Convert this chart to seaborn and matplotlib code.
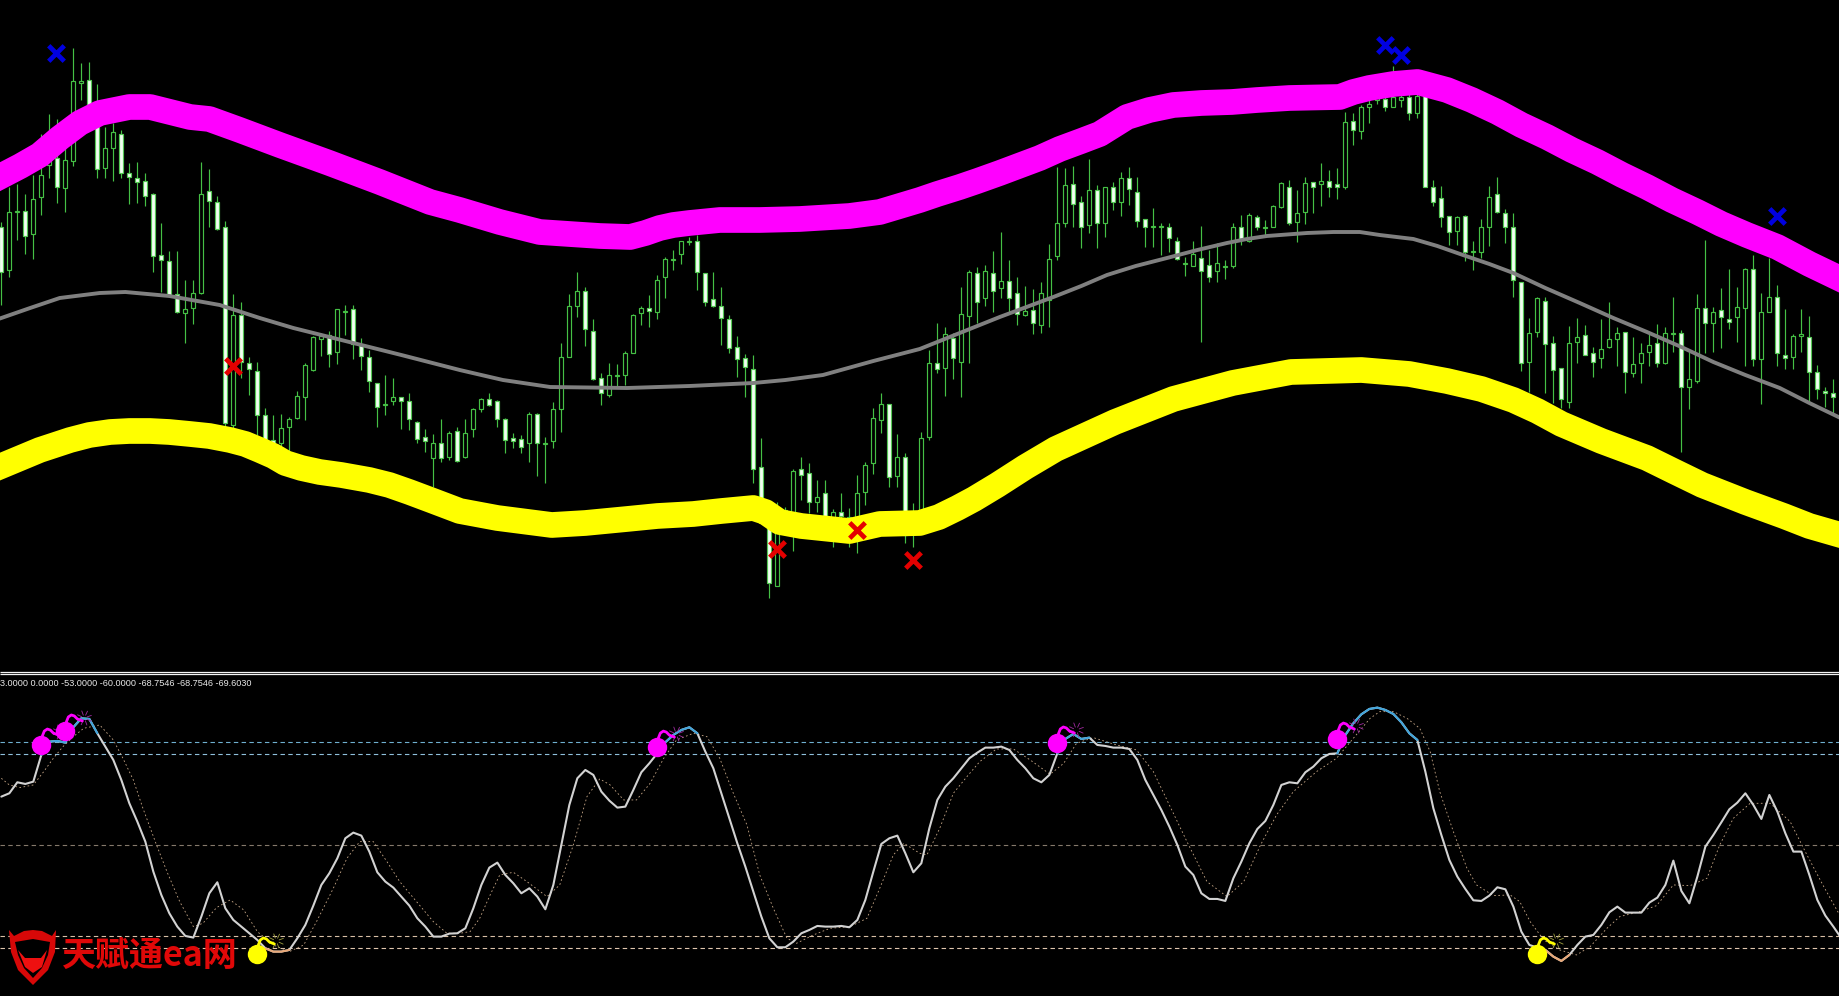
import numpy as np
import pandas as pd
import matplotlib
matplotlib.use('Agg')
import matplotlib.pyplot as plt
from matplotlib.patches import Polygon
import seaborn as sns

# candles, price scale is in chart rows (top of window = 0)
body_top = [227,212,211,211,199,175,150,158,160,81,
    81,80,125,148,132,134,173,178,181,194,
    255,261,294,309,293,194,191,202,227,315,
    315,363,371,415,440,428,419,396,365,337,
    336,335,309,311,309,345,357,383,404,397,
    397,401,422,437,443,443,433,431,433,409,
    399,399,401,419,438,439,414,414,443,409,
    357,306,291,291,331,378,375,375,353,315,
    308,308,280,259,259,241,241,241,273,299,
    306,319,347,358,369,467,505,533,510,471,
    469,473,497,493,512,512,517,493,465,418,
    404,404,457,457,515,438,363,363,334,338,
    314,272,273,271,273,281,281,293,311,310,
    293,259,223,185,184,202,190,190,187,187,
    178,178,192,219,226,226,227,241,263,254,
    258,265,263,266,227,227,215,217,227,206,
    183,187,213,183,182,181,181,184,122,121,
    107,104,98,99,97,97,97,96,96,187,
    198,216,217,216,251,227,197,194,213,227,
    282,333,298,301,343,368,343,337,335,353,
    349,339,333,332,364,353,345,343,333,333,
    333,379,308,308,312,310,319,307,269,269,
    312,297,297,355,336,334,337,372,391,393]
body_bot = [272,270,212,236,234,197,165,187,188,161,
    83,105,169,168,148,173,177,182,196,256,
    260,295,312,313,308,293,201,229,423,425,
    362,369,415,440,444,443,427,418,397,370,
    339,354,352,311.5,344,356,381,407,404.5,401,
    401,419,439,441,458,458,457,461,457,429,
    409,405,419,440,441,447,443,443,443.5,441,
    409,357,306,329,379,393,395,375.5,375,353,
    313,311,312,277,259.5,254,241.5,272,302,306,
    318,348,359,367,469,498,583,586,528,530,
    475,502,502,520,533,516,540,533,492,463,
    420,477,476,535,525,510,437,369,368,358,
    362,316,302,298,291,288,298,314,315,323,
    325,300,256,223,204,227,225,223,223,202,
    202,189,221,227,226.5,226.5,238,259,263.5,266,
    271,277,271,266.5,266,239,241,227,227.5,227,
    207,223,222,212,187,184,187,187,187,130,
    131,107,100,107,107,100,113,113,187,202,
    217,232,231,252,251.5,252,227,212,227,280,
    363,362,332,344,370,399,402,342,355,362,
    358,347,339,372,373,363,352,363,363,333.5,
    387,387,381,323,323,317,322,317,308,359,
    359,312,353,358,357,336,372,389,393,397]
wick_hi = [222,187,184,194,175,134,114,119,145,48,
    63,62,84,127,123,130,163,162,173,193,
    223,251,251,280,280,162,169,196,221,294,
    302,357,362,408,415,414,417,391,363,336,
    333,331,309,305,305,338,350,383,375,378,
    397,393,421,429,434,419,431,427,419,408,
    398,393,400,418,433,435,412,413,437,402,
    343,294,272,287,319,373,363,364,351,314,
    306,295,275,257,250,241,237,235,273,272,
    287,315,336,354,355,438,505,502,507,469,
    457,463,480,480,509,493,508,475,462,408,
    393,404,434,453,503,432,350,323,327,333,
    287,270,267,265,251,232,260,277,286,289,
    282,244,167,168,166,196,159,185,187,182,
    172,167,177,219,208,223,223,237,257,241,
    226,250,243,260,223,215,213,215,220,205,
    182,180,190,177,182,163,170,168,112,113,
    105,100,95,93,66,95,93,93,96,180,
    186,216,216,215,241,219,186,177,209,213,
    282,318,297,297,336,368,326,318,325,347,
    319,302,327,332,337,343,334,324,327,297,
    330,352,294,240,307,288,269,287,268,255,
    293,258,285,309,334,309,316,365,387,379]
wick_lo = [305,277,240,254,259,215,178,203,212,166,
    100,110,178,178,181,178,204,203,206,272,
    292,297,313,343,324,294,227,230,427,428,
    378,395,435,445,446,448,452,419,420,371,
    356,367,364,335,359,370,392,427,415,405,
    429,430,443,452,487,462,460,462,458,437,
    412,406,427,453,448,453,462,476,483,448,
    432,357,317,346,380,405,397,386,385,353,
    325,327,319,298,270,264,245,290,306,307,
    345,353,377,397,483,500,598,586,533,551,
    500,513,512,530,547,523,547,553,505,474,
    433,487,487,543,547,520,440,373,396,379,
    397,363,323,306,312,298,312,325,316,334,
    333,327,260,227,227,248,233,248,237,210,
    216,205,227,247,247,255,252,260,276,266,
    342,282,282,279,268,245,242,230,235,227,
    208,225,242,224,213,206,197,199,189,145,
    139,123,104,111,107,107,120,118,187,206,
    227,245,245,261,270,258,246,213,243,297,
    371,392,337,393,403,408,408,363,355,377,
    368,348,366,393,377,383,366,367,364,352,
    452,409,383,353,352,348,329,342,366,366,
    404,312,366,369,369,352,403,399,407,415]
solid = [1,0,0,1,0,0,0,1,0,0,
    0,1,1,0,0,1,1,1,1,1,
    1,1,1,0,0,0,1,1,1,0,
    1,1,1,1,1,0,0,0,0,0,
    0,1,0,0,1,1,1,1,0,0,
    1,1,1,1,0,1,0,1,0,0,
    0,1,1,1,1,1,0,1,0,0,
    0,0,0,1,1,1,0,0,0,0,
    0,1,0,0,0,0,0,1,1,1,
    1,1,1,1,1,1,1,0,1,0,
    1,1,0,1,0,1,0,0,0,0,
    0,1,0,1,1,0,0,1,0,1,
    0,0,1,0,1,0,1,1,0,1,
    0,0,0,0,1,1,0,1,0,1,
    0,1,1,1,0,0,1,1,0,0,
    1,1,0,0,0,1,0,1,0,0,
    0,1,0,0,1,0,1,1,0,1,
    0,0,0,1,0,0,1,0,1,1,
    1,1,0,1,0,0,0,1,1,1,
    1,0,0,1,1,1,0,0,1,1,
    0,0,0,1,0,0,0,1,0,0,
    1,0,0,1,0,1,1,0,0,1,
    0,0,1,1,0,0,1,1,1,1]

# envelope lines
upper_bar = [0,2.4,4.8,7.3,9.8,12.3,16,18.6,23.6,26,29.8,34.8,41,47.3,53.6,57.3,62.3,67.3,71,74.8,78.6,80.5,82.3,84,86,89.8,92,94.8,99.8,106,109.8,114.8,117,119.8,122,124.8,129.8,132.3,135,137.3,140.7,143.5,146.5,150,153.8,157,161,164,167.3,169,171,174,177,180.7,183.8,187,190,193.2,196.3,199.5,202.6,205.7,208.8,212,215,218.2,222,226,229.9]
upper_val = [176,166,155,138,123,113,107,107,117,119,130,145,163,182,202,210,222,232,234,236,237,233,228,225,223,220,220,220,219,216,212,200,194,187,181,173,158,149,141,134,117,110,105,103,102,100,98,97.5,97,92,88,84,82,90,100,112,125,137,150,162,175,187,200,212,224,235,247,264,279]
lower_bar = [0,2.4,4.8,8.6,11,13.6,16,18.6,21,23.6,26,28.6,30.5,32.3,34,35.5,37.5,39.8,42.5,46,48.5,51,54,57.3,62,68.8,73,78.2,82,86.5,90,94,95.5,97.3,100,106,109.8,114.8,117.2,119.5,121.6,124.5,128,131.8,139.2,146.5,153.9,161.2,170,176,180.7,185,189,192,195,200,205.7,209,212.6,218,222.8,226,229.9]
lower_val = [466,458,450,440,435,432,431,431,432,434,436,440,444,450,456,463,468,472,475,480,485,492,501,511,518,525,523,519,516,514,511,508,512,522,526,531,524,523,517,508,499,485,467,449,422,399,383,372,370,374,381,389,400,411,424,441,458,471,485,502,516,526,535]
mid_bar = [0,3.6,7.3,12.3,15.5,21,27.3,32.3,36.5,41,45.5,50,57.3,62.7,68.6,78.2,86,94,98,102.7,109,114.8,119.8,124.8,131.5,135,138.2,141.8,145.7,149.5,153.2,155.7,158.2,163.2,166.5,169.8,172.3,176.5,179.5,182.7,186,189,193,197.3,201.5,205.7,210,214,218,222.3,226,229.9]
mid_val = [318,308,298,293,292,296,305,318,328,337,346,355,370,380,387,388,386,383,380,375,361,349,333,317,297,286,275,266,258,250,243,239,236,233,232,232,235,239,246,255,264,273,288,303,318,332,347,362,375,388,403,418]

# arrow signals on the price window
sell_bar = [6.8,172.9,174.9,221.9]
sell_val = [53,45,55,216]
buy_bar = [29,96.9,107,113.9]
buy_val = [366,549,530,560]

# oscillator read-off, rows below the pane header, zero line at 541
osc_read = [395,385,352,357,350,270,230,228,233,187,
    160,162,205,245,285,345,415,470,530,620,
    690,745,785,813,818,755,685,652,730,765,
    785,805,825,850,860,860,855,820,780,722,
    660,625,580,520,503,512,560,622,650,668,
    695,722,760,785,815,815,806,805,790,730,
    660,608,593,630,655,685,670,695,733,660,
    540,420,340,315,330,380,407,428,425,375,
    322,295,265,232,210,195,187,205,260,310,
    385,460,535,605,680,755,820,847,847,830,
    805,795,783,785,785,783,787,765,705,620,
    537,520,512,565,622,595,490,405,365,340,
    310,280,263,248,248,245,255,285,310,340,
    352,330,265,222,207,222,218,240,243,248,
    248,252,285,345,390,435,485,540,605,630,
    685,702,702,708,640,590,535,492,468,420,
    360,352,355,322,305,280,267,265,210,175,
    148,132,128,135,147,172,205,225,320,430,
    510,585,635,672,706,708,692,667,673,725,
    800,840,848,855,875,888,870,840,815,810,
    780,742,725,743,743,743,713,698,660,587,
    678,715,635,545,510,472,433,413,385,420,
    462,390,440,505,560,560,630,705,752,785,820]
sig_bar = [0,1,2.3,4,5.3,6.5,7.7,9,10.3,12.3,14,15.2,16.5,17.7,19.4,20.7,22.3,24,25.2,26.9,28.6,30.3,32,34,36,37.8,39.4,41.5,43.2,44.8,46.5,48.2,49.8,51.9,54,55.7,57.3,
    58.6,59.8,61.1,62.3,64,65.7,68.2,69.8,71.5,73.2,74.8,76.1,77.8,79.4,81.1,82.8,84.4,86.5,88.2,89.8,91.5,93.2,94.8,96.5,98.2,99.4,101.5,103.6,106.1,108.2,109.8,111.5,112.8,114.8,
    115.7,117.3,119,120.7,122.3,124.4,126.5,128.6,131.1,132.8,134.4,136.5,139.4,141.9,144,146.1,148.2,150.7,153.2,155.3,157.4,159.4,161.5,164.4,166.9,169,171.1,172.3,
    174,175.7,177.3,178.6,179.8,181.5,183.2,184.4,186.5,188.6,189.8,191.1,192.8,194.8,196.9,198.6,200.7,202.3,204.8,206.9,209,211.1,213.2,214.8,216.5,218.6,221.1,223.6,225.7,227.8,229.9]
sig_read = [340,360,368,360,320,280,245,215,190,180,225,280,345,430,540,620,710,785,775,728,705,735,800,840,860,840,770,670,580,530,530,590,650,710,770,805,805,
    800,760,690,630,622,650,695,660,540,395,342,360,405,405,355,280,225,205,215,280,385,480,630,730,820,835,810,790,785,760,670,570,535,565,
    570,490,385,335,290,252,252,285,328,295,235,218,240,255,320,425,530,650,695,650,540,450,380,320,280,220,160,140,
    140,160,190,260,380,500,610,660,692,690,710,770,825,855,870,845,790,755,740,722,660,662,640,540,460,415,415,470,570,665,755]
levels = [60,53,0,-53,-60]
level_colors = ['#6fb0d0','#8fc0dc','#85796b','#d8bfa5','#e0c6ae']
hot_runs = [(5,12),(83,87),(132,136),(167,177)]
cold_runs = [(33,36),(193,196)]
bomb_bar_pink = [5,8,82,132,167]
bomb_val_pink = [58.4,66.6,57.2,59.6,61.9]
bomb_bar_yellow = [32,192]
bomb_val_yellow = [-63.3,-63.3]
header = '3.0000 0.0000 -53.0000 -60.0000 -68.7546 -68.7546 -69.6030'

W, H = 1840, 996
PX_BAR = 8.0      # pixels per bar
PX_UNIT = 1.717   # pixels per oscillator unit

sns.set_theme(style='dark', rc={'axes.facecolor': 'black', 'figure.facecolor': 'black'})
plt.rcParams['font.family'] = ['Liberation Sans', 'DejaVu Sans']

fig = plt.figure(figsize=(W / 100, H / 100), dpi=100)
ax = fig.add_axes([0, (H - 672) / H, 1, 672 / H])
ax2 = fig.add_axes([0, 0, 1, (H - 675) / H])
top = fig.add_axes([0, 0, 1, 1])
top.patch.set_visible(False)

bars = np.arange(len(body_top))
tops = np.array(body_top, dtype=float)
bots = np.array(body_bot, dtype=float)
is_solid = np.array(solid, dtype=bool)

ax.vlines(bars, wick_hi, wick_lo, color='#45c045', linewidth=0.85, zorder=1)
ax.bar(bars[~is_solid], (bots - tops)[~is_solid], bottom=tops[~is_solid], width=0.52,
       facecolor='black', edgecolor='#45c045', linewidth=0.85, zorder=2)
ax.bar(bars[is_solid], (bots - tops)[is_solid], bottom=tops[is_solid], width=0.52,
       facecolor='#f2fff2', edgecolor='#55c855', linewidth=0.85, zorder=2)

for xs, ys, col, lw in [(mid_bar, mid_val, '#808080', 2.8),
                        (upper_bar, upper_val, '#ff00ff', 18.5),
                        (lower_bar, lower_val, '#ffff00', 18.5)]:
    sns.lineplot(x=xs, y=ys, ax=ax, color=col, linewidth=lw, errorbar=None,
                 solid_joinstyle='round', solid_capstyle='projecting', zorder=3)

sns.scatterplot(x=sell_bar, y=sell_val, ax=ax, marker='x', s=125, color='#0000e0', linewidth=3.4, zorder=4)
sns.scatterplot(x=buy_bar, y=buy_val, ax=ax, marker='x', s=125, color='#e40000', linewidth=3.4, zorder=4)

ax.set_xlim(-0.166, 229.83)
ax.set_ylim(672, 0)

# oscillator pane, back to indicator units
osc_main = (541 - np.array(osc_read, dtype=float)) / 5.15
osc_sig = (541 - np.array(sig_read, dtype=float)) / 5.15
osc_bars = np.arange(len(osc_main))

for lev, col in zip(levels, level_colors):
    ax2.axhline(lev, color=col, linewidth=0.8, linestyle=(0, (4, 3)), zorder=1)

sns.lineplot(x=sig_bar, y=osc_sig, ax=ax2, color='#c8a888', linewidth=0.6, linestyle=(0, (2, 3)), errorbar=None, zorder=2)
sns.lineplot(x=osc_bars, y=osc_main, ax=ax2, color='#d2d2d2', linewidth=1.5, errorbar=None, zorder=3)
for a, b in hot_runs:
    sns.lineplot(x=osc_bars[a:b + 1], y=osc_main[a:b + 1], ax=ax2, color='#41a5dc', linewidth=1.5, errorbar=None, zorder=4)
for a, b in cold_runs:
    sns.lineplot(x=osc_bars[a:b + 1], y=osc_main[a:b + 1], ax=ax2, color='#e8a878', linewidth=1.5, errorbar=None, zorder=4)


def draw_bomb(bx, bv, col, spark):
    ax2.plot([bx], [bv], marker='o', ms=14, color=col, mew=0, zorder=6)
    fx = np.array([1, 3, 6, 9, 12, 17]) / PX_BAR
    fy = np.array([9, 14, 16, 15, 12, 10]) / PX_UNIT
    ax2.plot(bx + fx, bv + fy, color=col, linewidth=2.0, zorder=6)
    sx, sy = bx + 19 / PX_BAR, bv + 13 / PX_UNIT
    for ang in np.arange(0, 360, 45) + 20:
        c, s = np.cos(np.radians(ang)), np.sin(np.radians(ang))
        ax2.plot([sx + 3 * c / PX_BAR, sx + 7.5 * c / PX_BAR],
                 [sy + 3 * s / PX_UNIT, sy + 7.5 * s / PX_UNIT], color=spark, linewidth=0.6, zorder=5)


for bx, bv in zip(bomb_bar_pink, bomb_val_pink):
    draw_bomb(bx, bv, '#ff00ff', '#a02aa0')
for bx, bv in zip(bomb_bar_yellow, bomb_val_yellow):
    draw_bomb(bx, bv, '#ffff00', '#a0a040')

ax2.set_xlim(-0.166, 229.83)
ax2.set_ylim(-87.8, 99.2)

for a in (ax, ax2):
    a.set_xticks([])
    a.set_yticks([])
    a.set_xlabel('')
    a.set_ylabel('')
    for sp in a.spines.values():
        sp.set_visible(False)

# overlay in figure pixels: window border, header, logo
top.set_xlim(0, W)
top.set_ylim(H, 0)
top.axis('off')
top.hlines([672.3, 674.3], 0, W, color='#f4f4f4', linewidth=0.9)
top.text(0, 683, header, color='#e8e8e8', fontsize=6.6, va='center', ha='left')

top.add_patch(Polygon([(9,930),(14,936),(24,931),(33,930),(42,931),(52,936),(56,930),(55,952),(48,970),(33,985),(18,970),(11,952)],
                      facecolor='#d80808', edgecolor='none', zorder=5))
top.add_patch(Polygon([(15,942),(33,939),(50,942),(48,955),(42,968),(33,978),(24,968),(18,955)],
                      facecolor='black', edgecolor='none', zorder=6))
top.add_patch(Polygon([(18,950),(25,958),(41,958),(47,950),(42,967),(33,973),(25,967)],
                      facecolor='#ee1010', edgecolor='none', zorder=7))
top.text(62, 955, '天赋通ea网', color='#e00808', fontsize=24.5, fontweight='bold', va='center', ha='left',
         family=['Noto Sans CJK SC', 'DejaVu Sans'], zorder=7)

fig.savefig('out.png', dpi=100, facecolor='black')
